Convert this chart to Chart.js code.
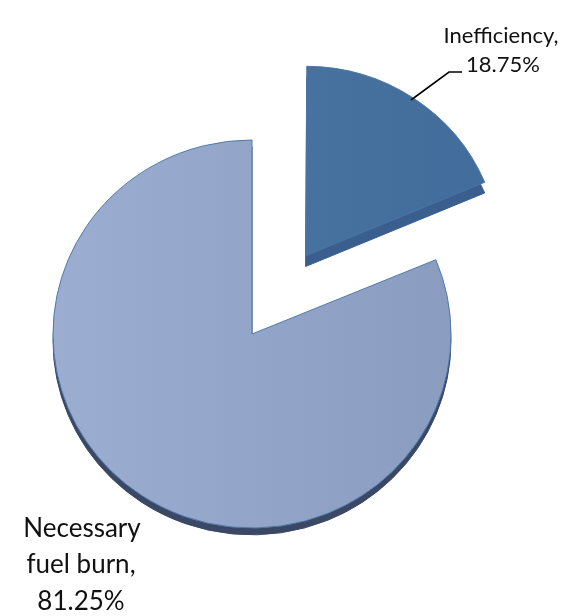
<!DOCTYPE html>
<html>
<head>
<meta charset="utf-8">
<style>
  html, body { margin: 0; padding: 0; background: #fff; }
  canvas { display: block; }
</style>
<script src="https://cdn.jsdelivr.net/npm/chart.js@4"></script>
</head>
<body>
<canvas id="pieChart" width="572" height="616"></canvas>
<script>
const categories = ["Inefficiency", "Necessary fuel burn"];
const shares = [18.75, 81.25];

const ctx = document.getElementById("pieChart").getContext("2d");

function sideGradient(x0, x1, from, to) {
  const g = ctx.createLinearGradient(x0, 0, x1, 0);
  g.addColorStop(0, from);
  g.addColorStop(1, to);
  return g;
}

const faceColors = [
  sideGradient(252, 452, "#47729f", "#416c9b"),
  sideGradient(52, 452, "#9badd0", "#8a9dc0"),
];
const edgeColors = ["#4a75a8", "#4f79aa"];
const rimColors = ["#3a5f8e", "#3a4866"];
const rimDepth = [11, 7];
const squash = 0.975;

// fake 3D: the pie is flattened a bit and each slice gets a darker copy underneath
const depthPlugin = {
  id: "depth",
  afterDatasetsUpdate(chart) {
    // chart.js grows an offset slice, the pulled out one is smaller in the picture
    chart.getDatasetMeta(0).data[0].outerRadius = 187;
  },
  beforeDatasetsDraw(chart) {
    const arcs = chart.getDatasetMeta(0).data;
    const cy = arcs[1].y;
    ctx.save();
    ctx.translate(0, cy);
    ctx.scale(1, squash);
    ctx.translate(0, -cy);
    arcs.forEach((arc, i) => {
      const rim = Object.create(arc);
      rim.options = { ...arc.options, backgroundColor: rimColors[i], borderColor: rimColors[i] };
      ctx.save();
      ctx.translate(0, rimDepth[i]);
      rim.draw(ctx);
      ctx.restore();
    });
  },
  afterDatasetsDraw() {
    ctx.restore();
  },
};

const labelPlugin = {
  id: "sliceLabels",
  afterDraw() {
    ctx.save();
    ctx.fillStyle = "#111";
    ctx.textAlign = "center";
    ctx.textBaseline = "middle";

    ctx.font = "22px Lato";
    ctx.fillText(categories[0] + ",", 501, 36);
    ctx.fillText(shares[0] + "%", 503, 65);

    ctx.font = "26px Lato";
    ctx.fillText("Necessary", 82, 529);
    ctx.fillText("fuel burn,", 81, 565);
    ctx.fillText(shares[1] + "%", 81, 602);

    // leader line
    ctx.strokeStyle = "#000";
    ctx.lineWidth = 1.6;
    ctx.beginPath();
    ctx.moveTo(411, 100);
    ctx.lineTo(449, 72);
    ctx.lineTo(462, 72);
    ctx.stroke();
    ctx.restore();
  },
};

new Chart(ctx, {
  type: "pie",
  data: {
    labels: categories,
    datasets: [
      {
        data: shares,
        backgroundColor: faceColors,
        borderColor: edgeColors,
        borderWidth: 1,
        borderJoinStyle: "miter",
        offset: [386, 0],
      },
    ],
  },
  options: {
    responsive: false,
    animation: false,
    radius: 199,
    layout: { padding: { left: 0, right: 68, top: 52, bottom: 0 } },
    plugins: {
      legend: { display: false },
      tooltip: { enabled: false },
    },
  },
  plugins: [depthPlugin, labelPlugin],
});
</script>
</body>
</html>
